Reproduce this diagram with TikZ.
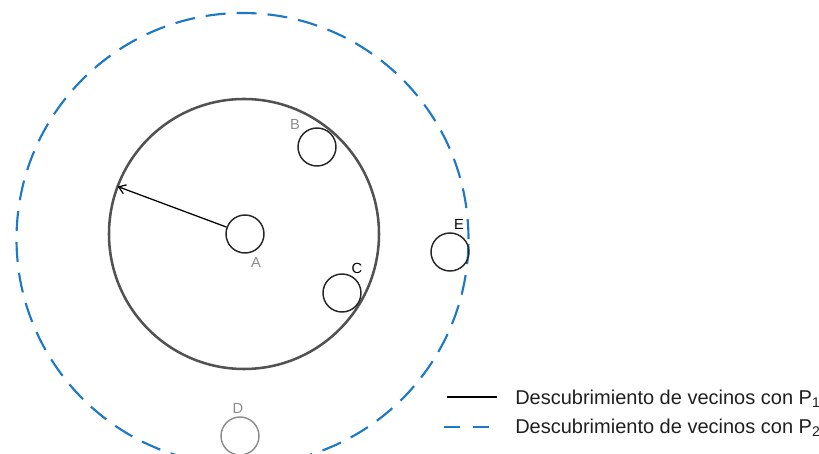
\documentclass[tikz,border=0pt]{standalone}
\usepackage{fontspec}
\setmainfont{Liberation Sans}
\usetikzlibrary{arrows.meta,calc}
\definecolor{azulalcance}{HTML}{1D78C6}
\definecolor{grisnodo}{HTML}{8C8C8C}

\begin{document}
\begin{tikzpicture}[x=0.75pt,y=0.75pt,>={Straight Barb[length=5pt,width=7pt]},line cap=butt,
    nodo/.style={draw=black!85,line width=1.1pt,circle,minimum size=28.5pt,inner sep=0pt},
    etiqueta/.style={font=\fontsize{11}{13}\selectfont,inner sep=0pt},
    alcance1/.style={draw=black!68,line width=1.9pt,circle,inner sep=0pt},
    alcance2/.style={draw=azulalcance,line width=1.6pt,dash pattern=on 15pt off 8.25pt,circle,inner sep=0pt},
    leyenda/.style={anchor=west,text=black!88,font=\fontsize{15}{18}\selectfont,inner sep=0pt}]
    \useasboundingbox (0,0) rectangle (819,454);

    % areas de descubrimiento alrededor de A
    \node[alcance1,minimum size=202.5pt] (P1) at (244,220) {};
    \node[alcance2,minimum size=339pt] (P2) at (242.5,215) {};

    % nodos
    \node[nodo] (A) at (245,220) {};
    \node[nodo] (B) at (317,307) {};
    \node[nodo] (C) at (342,161) {};
    \node[nodo] (E) at (450,202) {};
    \node[nodo,draw=grisnodo] (D) at (240,18) {};
    \node[etiqueta,text=grisnodo] (lA) at (256,192) {A};
    \node[etiqueta,text=grisnodo] (lB) at (295,330) {B};
    \node[etiqueta] (lC) at (357,186) {C};
    \node[etiqueta] (lE) at (459,230) {E};
    \node[etiqueta,text=grisnodo] (lD) at (238,46) {D};

    % radio de alcance
    \coordinate (borde) at ($(P1.center)+(159.4:135)$);
    \draw[->,line width=0.95pt] (A) -- (borde);

    % leyenda
    \coordinate (l1a) at (447,57);
    \coordinate (l1b) at (497,57);
    \coordinate (l2a) at (444,27);
    \coordinate (l2b) at (495,27);
    \draw[black,line width=1.1pt] (l1a) -- (l1b);
    \draw[azulalcance,line width=1.6pt,dash pattern=on 12pt off 10pt] (l2a) -- (l2b);
    \node[leyenda] (t1) at (515,55) {Descubrimiento de vecinos con P\textsubscript{1}};
    \node[leyenda] (t2) at (515,26) {Descubrimiento de vecinos con P\textsubscript{2}};
\end{tikzpicture}
\end{document}
